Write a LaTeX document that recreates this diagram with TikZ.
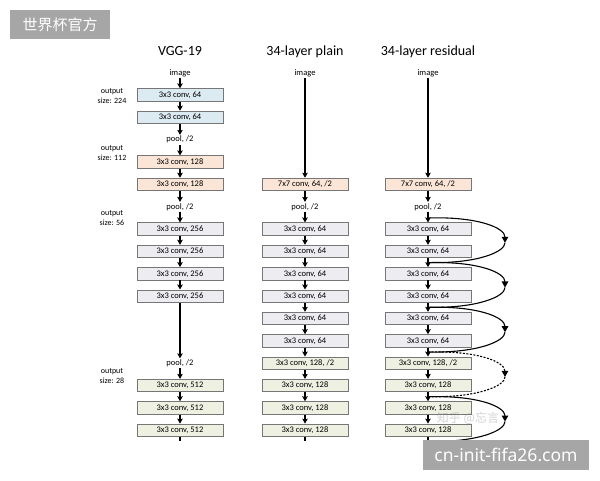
\documentclass[tikz,border=0pt]{standalone}
\usepackage{fontspec}
\setmainfont{Carlito}
\newfontfamily\cjkfont{Noto Sans CJK SC}
\newfontfamily\wmfont{Noto Sans}
\usetikzlibrary{arrows.meta}
\definecolor{bxborder}{HTML}{767676}
\definecolor{cblue}{HTML}{DCEAF1}
\definecolor{cpeach}{HTML}{FBE5D7}
\definecolor{cgray}{HTML}{ECECF1}
\definecolor{cgreen}{HTML}{EEF0E2}
\definecolor{wmgray}{HTML}{A6A6A6}
\tikzset{
  blk/.style={draw=bxborder, line width=0.8pt, minimum width=86pt, minimum height=12.5pt, inner sep=0pt, font=\fontsize{8.5}{9}\selectfont},
  bb/.style={blk, fill=cblue},
  bp/.style={blk, fill=cpeach},
  bg/.style={blk, fill=cgray},
  bn/.style={blk, fill=cgreen},
  lbl/.style={font=\fontsize{8.5}{9}\selectfont, inner sep=1pt},
  outlbl/.style={font=\fontsize{8}{10}\selectfont, align=center, inner sep=0pt},
  ttl/.style={font=\fontsize{14}{16}\selectfont, inner sep=0pt},
  arr/.style={-{Stealth[length=5pt,width=5.5pt,inset=1pt]}, line width=1.1pt},
  sarr/.style={-{Triangle[length=6pt,width=6.5pt]}, line width=1.1pt},
  stub/.style={line width=1.1pt},
  res/.style={line width=1.1pt},
  shortcutsolid/.style={solid},
  shortcutdash/.style={dash pattern=on 2pt off 1.5pt},
}
\begin{document}
\begin{tikzpicture}[x=1pt,y=-1pt]
\useasboundingbox (0,0) rectangle (600,480);
\fill[white] (0,0) rectangle (600,480);
\def\ry#1{95+#1*22.35}
% titles
\node[ttl] (t1) at (180,51) {VGG-19};
\node[ttl] (t2) at (305,52) {34-layer plain};
\node[ttl] (t3) at (428,52) {34-layer residual};
% output labels
\node[outlbl] (o1) at (112,95.5) {output\\size: 224};
\node[outlbl] (o2) at (112,153) {output\\size: 112};
\node[outlbl] (o3) at (112,218) {output\\size: 56};
\node[outlbl] (o4) at (112,376) {output\\size: 28};
% ---------- VGG-19 ----------
\node[lbl] (vi) at (180,73) {image};
\node[bb] (v0) at (180,{\ry{0}}) {3x3 conv, 64};
\node[bb] (v1) at (180,{\ry{1}}) {3x3 conv, 64};
\node[lbl] (vp1) at (180,{\ry{2}}) {pool, /2};
\node[bp] (v3) at (180,{\ry{3}}) {3x3 conv, 128};
\node[bp] (v4) at (180,{\ry{4}}) {3x3 conv, 128};
\node[lbl] (vp2) at (180,{\ry{5}}) {pool, /2};
\node[bg] (v6) at (180,{\ry{6}}) {3x3 conv, 256};
\node[bg] (v7) at (180,{\ry{7}}) {3x3 conv, 256};
\node[bg] (v8) at (180,{\ry{8}}) {3x3 conv, 256};
\node[bg] (v9) at (180,{\ry{9}}) {3x3 conv, 256};
\node[lbl] (vp3) at (180,{\ry{12}}) {pool, /2};
\node[bn] (v13) at (180,{\ry{13}}) {3x3 conv, 512};
\node[bn] (v14) at (180,{\ry{14}}) {3x3 conv, 512};
\node[bn] (v15) at (180,{\ry{15}}) {3x3 conv, 512};
\coordinate (vend) at (180,441);
\foreach \a/\b in {vi/v0,v0/v1,v1/vp1,vp1/v3,v3/v4,v4/vp2,vp2/v6,v6/v7,v7/v8,v8/v9,v9/vp3,vp3/v13,v13/v14,v14/v15}
  \draw[arr] (\a.south) -- (\b.north);
\draw[stub] (v15.south) -- (vend);
% ---------- 34-layer plain ----------
\node[lbl] (pi) at (305,73) {image};
\node[bp] (p4) at (305,{\ry{4}}) {7x7 conv, 64, /2};
\node[lbl] (pp) at (305,{\ry{5}}) {pool, /2};
\foreach \r in {6,...,11}
  \node[bg] (p\r) at (305,{\ry{\r}}) {3x3 conv, 64};
\node[bn] (p12) at (305,{\ry{12}}) {3x3 conv, 128, /2};
\foreach \r in {13,14,15}
  \node[bn] (p\r) at (305,{\ry{\r}}) {3x3 conv, 128};
\coordinate (pend) at (305,441);
\foreach \a/\b in {pi/p4,p4/pp,pp/p6,p6/p7,p7/p8,p8/p9,p9/p10,p10/p11,p11/p12,p12/p13,p13/p14,p14/p15}
  \draw[arr] (\a.south) -- (\b.north);
\draw[stub] (p15.south) -- (pend);
% ---------- 34-layer residual ----------
\node[lbl] (ri) at (428,73) {image};
\node[bp] (r4) at (428,{\ry{4}}) {7x7 conv, 64, /2};
\node[lbl] (rp) at (428,{\ry{5}}) {pool, /2};
\foreach \r in {6,...,11}
  \node[bg] (r\r) at (428,{\ry{\r}}) {3x3 conv, 64};
\node[bn] (r12) at (428,{\ry{12}}) {3x3 conv, 128, /2};
\foreach \r in {13,14,15}
  \node[bn] (r\r) at (428,{\ry{\r}}) {3x3 conv, 128};
\coordinate (rend) at (428,441);
\foreach \a/\b in {ri/r4,r4/rp,rp/r6,r6/r7,r7/r8,r8/r9,r9/r10,r10/r11,r11/r12,r12/r13,r13/r14,r14/r15}
  \draw[arr] (\a.south) -- (\b.north);
\draw[stub] (r15.south) -- (rend);
% junctions and shortcut apexes
\foreach \k/\r in {0/5,1/7,2/9,3/11,4/13,5/15}
  \coordinate (j\k) at (428,{\ry{\r}+11.18});
\foreach \k/\r in {0/6,1/8,2/10,3/12,4/14}
  \coordinate (a\k) at (505,{\ry{\r}+11.18+2.5});
\foreach \s/\k/\e/\st in {j0/a0/j1/shortcutsolid, j1/a1/j2/shortcutsolid, j2/a2/j3/shortcutsolid, j3/a3/j4/shortcutdash, j4/a4/j5/shortcutsolid}{
  \draw[sarr,\st] (\s) .. controls +(50,-1.5) and +(0,-15) .. (\k);
  \draw[res,\st] (\k) .. controls +(0,9) and +(50,1) .. (\e);
}
% watermarks
\node[fill=wmgray, text=white, minimum width=100pt, minimum height=29pt, inner sep=0pt, font=\cjkfont\fontsize{15}{17}\selectfont] (wm1) at (60,24.5) {世界杯官方};
\node[text=gray, opacity=0.35, font=\cjkfont\fontsize{12}{14}\selectfont, inner sep=0pt] (wm3) at (468,418) {知乎 @忘言};
\node[fill=wmgray, text=white, minimum width=166pt, minimum height=30pt, inner sep=0pt, font=\wmfont\fontsize{17.5}{19}\selectfont] (wm2) at (506,455) {cn-init-fifa26.com};
\end{tikzpicture}
\end{document}
